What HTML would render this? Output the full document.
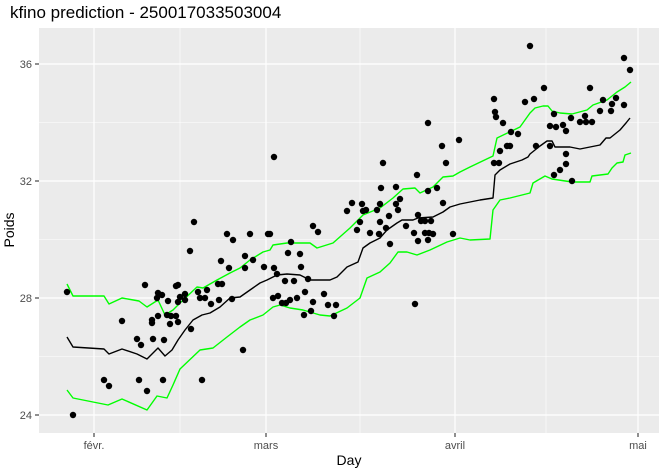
<!DOCTYPE html>
<html><head><meta charset="utf-8"><style>
body{margin:0;background:#fff;}
svg{display:block;font-family:"Liberation Sans",sans-serif;}
</style></head><body>
<svg width="664" height="472" viewBox="0 0 664 472">
<rect x="0" y="0" width="664" height="472" fill="#fff"/>
<text x="10" y="18" font-size="17" fill="#000">kfino prediction - 250017033503004</text>
<rect x="39" y="28" width="620" height="405" fill="#ebebeb"/>
<g stroke="#fff" stroke-width="0.6">
<line x1="39" x2="659" y1="122.5" y2="122.5"/><line x1="39" x2="659" y1="239.5" y2="239.5"/><line x1="39" x2="659" y1="356.5" y2="356.5"/>
<line y1="28" y2="433" x1="180" x2="180"/><line y1="28" y2="433" x1="360" x2="360"/><line y1="28" y2="433" x1="546" x2="546"/>
</g>
<g stroke="#fff" stroke-width="1.2">
<line x1="39" x2="659" y1="64" y2="64"/><line x1="39" x2="659" y1="181" y2="181"/><line x1="39" x2="659" y1="298" y2="298"/><line x1="39" x2="659" y1="415" y2="415"/>
<line y1="28" y2="433" x1="94" x2="94"/><line y1="28" y2="433" x1="266" x2="266"/><line y1="28" y2="433" x1="455" x2="455"/><line y1="28" y2="433" x1="638" x2="638"/>
</g>
<g fill="none" stroke-width="1.4" stroke-linejoin="round">
<polyline stroke="#00ff00" points="67,284 73,296 104,296 109,304 122,298 139,301 147,307 158,300 165,315 173,310 180,303 197,287 203,288 217,280 230,273 240,268 250,260 263,252 270,250 273,245 287,243 310,243 317,248 333,243 350,228 363,215 380,208 393,198 403,189 415,188 420,193 433,187 443,177 453,176 460,172 470,167 493,156 497,138 520,127 530,113 535,108 543,106 548,106 552,111 560,113 572,114 587,110 593,105 607,100 617,92 625,87 631,82"/>
<polyline stroke="#00ff00" points="67,390 73,398 108,405 122,399 147,410 157,396 167,398 173,385 180,369 200,350 213,348 227,337 240,327 250,320 263,315 273,307 280,305 290,308 303,310 320,315 330,316 347,308 360,298 367,278 380,272 390,263 398,252 407,252 417,255 430,250 447,242 460,238 470,240 490,239 493,210 500,200 510,198 530,193 533,183 545,176 552,179 572,182 590,182 592,176 608,174 612,168 617,163 623,162 625,155 631,153"/>
<polyline stroke="#000" points="67,337 73,347 104,349 109,354 122,349 137,354 147,359 158,348 165,356 172,350 178,340 185,330 193,320 202,315 210,313 220,307 230,298 240,297 250,290 260,283 267,280 277,275 287,274 300,275 310,280 330,280 337,277 347,267 358,262 363,248 370,243 380,238 387,230 397,223 402,220 413,220 418,218 433,217 443,212 450,207 460,204 470,202 480,200 493,198 495,175 500,170 510,164 522,160 528,157 530,154 540,146 547,141 552,141 555,147 570,147 580,149 590,147 600,145 606,138 610,138 620,130 626,123 630,118"/>
</g>
<g fill="#000">
<circle cx="67" cy="292" r="3.2"/><circle cx="73" cy="415" r="3.2"/><circle cx="104" cy="380" r="3.2"/><circle cx="109" cy="386" r="3.2"/><circle cx="122" cy="321" r="3.2"/><circle cx="139" cy="380" r="3.2"/><circle cx="147" cy="391" r="3.2"/><circle cx="163" cy="380" r="3.2"/><circle cx="202" cy="380" r="3.2"/><circle cx="243" cy="350" r="3.2"/><circle cx="157" cy="298" r="3.2"/>
<circle cx="274" cy="157" r="3.2"/><circle cx="194" cy="222" r="3.2"/><circle cx="190" cy="251" r="3.2"/><circle cx="227" cy="234" r="3.2"/><circle cx="233" cy="240" r="3.2"/><circle cx="250" cy="234" r="3.2"/><circle cx="268" cy="234" r="3.2"/><circle cx="245" cy="256" r="3.2"/><circle cx="221" cy="261" r="3.2"/><circle cx="253" cy="260" r="3.2"/><circle cx="245" cy="268" r="3.2"/><circle cx="264" cy="267" r="3.2"/><circle cx="218" cy="284" r="3.2"/><circle cx="222" cy="284" r="3.2"/><circle cx="274" cy="268" r="3.2"/><circle cx="277" cy="274" r="3.2"/><circle cx="229" cy="268" r="3.2"/><circle cx="198" cy="292" r="3.2"/><circle cx="185" cy="294" r="3.2"/><circle cx="145" cy="285" r="3.2"/><circle cx="158" cy="293" r="3.2"/><circle cx="176" cy="286" r="3.2"/><circle cx="185" cy="300" r="3.2"/><circle cx="178" cy="302" r="3.2"/><circle cx="168" cy="301" r="3.2"/><circle cx="180" cy="297" r="3.2"/><circle cx="162" cy="295" r="3.2"/><circle cx="178" cy="285" r="3.2"/><circle cx="200" cy="298" r="3.2"/><circle cx="205" cy="298" r="3.2"/><circle cx="207" cy="290" r="3.2"/><circle cx="232" cy="299" r="3.2"/><circle cx="219" cy="300" r="3.2"/><circle cx="211" cy="304" r="3.2"/><circle cx="171" cy="316" r="3.2"/><circle cx="176" cy="316" r="3.2"/><circle cx="167" cy="315" r="3.2"/><circle cx="158" cy="316" r="3.2"/><circle cx="152" cy="320" r="3.2"/><circle cx="170" cy="324" r="3.2"/><circle cx="191" cy="329" r="3.2"/><circle cx="178" cy="322" r="3.2"/><circle cx="153" cy="339" r="3.2"/><circle cx="152" cy="323" r="3.2"/><circle cx="141" cy="345" r="3.2"/><circle cx="137" cy="339" r="3.2"/><circle cx="164" cy="340" r="3.2"/><circle cx="278" cy="296" r="3.2"/><circle cx="290" cy="300" r="3.2"/>
<circle cx="270" cy="234" r="3.2"/><circle cx="273" cy="298" r="3.2"/><circle cx="282" cy="303" r="3.2"/><circle cx="286" cy="303" r="3.2"/><circle cx="297" cy="298" r="3.2"/><circle cx="285" cy="281" r="3.2"/><circle cx="294" cy="281" r="3.2"/><circle cx="308" cy="279" r="3.2"/><circle cx="313" cy="302" r="3.2"/><circle cx="304" cy="315" r="3.2"/><circle cx="311" cy="311" r="3.2"/><circle cx="305" cy="292" r="3.2"/><circle cx="328" cy="305" r="3.2"/><circle cx="334" cy="316" r="3.2"/><circle cx="336" cy="305" r="3.2"/><circle cx="324" cy="294" r="3.2"/><circle cx="301" cy="267" r="3.2"/><circle cx="300" cy="254" r="3.2"/><circle cx="288" cy="253" r="3.2"/><circle cx="291" cy="242" r="3.2"/><circle cx="318" cy="232" r="3.2"/><circle cx="313" cy="226" r="3.2"/><circle cx="357" cy="230" r="3.2"/><circle cx="352" cy="203" r="3.2"/><circle cx="362" cy="204" r="3.2"/><circle cx="363" cy="211" r="3.2"/><circle cx="347" cy="211" r="3.2"/><circle cx="366" cy="210" r="3.2"/><circle cx="377" cy="210" r="3.2"/><circle cx="380" cy="204" r="3.2"/><circle cx="389" cy="216" r="3.2"/><circle cx="370" cy="233" r="3.2"/><circle cx="360" cy="222" r="3.2"/><circle cx="386" cy="228" r="3.2"/><circle cx="390" cy="244" r="3.2"/><circle cx="380" cy="222" r="3.2"/><circle cx="379" cy="234" r="3.2"/><circle cx="381" cy="188" r="3.2"/><circle cx="396" cy="187" r="3.2"/><circle cx="383" cy="163" r="3.2"/><circle cx="428" cy="191" r="3.2"/><circle cx="417" cy="175" r="3.2"/><circle cx="421" cy="221" r="3.2"/><circle cx="414" cy="233" r="3.2"/><circle cx="418" cy="241" r="3.2"/><circle cx="425" cy="221" r="3.2"/><circle cx="425" cy="233" r="3.2"/><circle cx="431" cy="221" r="3.2"/><circle cx="433" cy="234" r="3.2"/><circle cx="415" cy="304" r="3.2"/><circle cx="429" cy="233" r="3.2"/><circle cx="418" cy="215" r="3.2"/><circle cx="396" cy="204" r="3.2"/><circle cx="400" cy="199" r="3.2"/><circle cx="406" cy="226" r="3.2"/><circle cx="428" cy="240" r="3.2"/><circle cx="443" cy="203" r="3.2"/><circle cx="437" cy="188" r="3.2"/><circle cx="453" cy="234" r="3.2"/><circle cx="398" cy="210" r="3.2"/>
<circle cx="428" cy="123" r="3.2"/><circle cx="442" cy="146" r="3.2"/><circle cx="459" cy="140" r="3.2"/><circle cx="446" cy="163" r="3.2"/><circle cx="494" cy="99" r="3.2"/><circle cx="495" cy="112" r="3.2"/><circle cx="496" cy="117" r="3.2"/><circle cx="494" cy="163" r="3.2"/><circle cx="499" cy="163" r="3.2"/><circle cx="503" cy="123" r="3.2"/><circle cx="500" cy="151" r="3.2"/><circle cx="507" cy="146" r="3.2"/><circle cx="511" cy="132" r="3.2"/><circle cx="518" cy="134" r="3.2"/><circle cx="525" cy="102" r="3.2"/><circle cx="530" cy="46" r="3.2"/><circle cx="534" cy="99" r="3.2"/><circle cx="544" cy="88" r="3.2"/><circle cx="536" cy="146" r="3.2"/><circle cx="550" cy="146" r="3.2"/><circle cx="550" cy="126" r="3.2"/><circle cx="556" cy="127" r="3.2"/><circle cx="554" cy="114" r="3.2"/><circle cx="563" cy="125" r="3.2"/><circle cx="566" cy="131" r="3.2"/><circle cx="566" cy="154" r="3.2"/><circle cx="571" cy="118" r="3.2"/><circle cx="580" cy="122" r="3.2"/><circle cx="586" cy="122" r="3.2"/><circle cx="592" cy="122" r="3.2"/><circle cx="585" cy="116" r="3.2"/><circle cx="590" cy="88" r="3.2"/><circle cx="600" cy="111" r="3.2"/><circle cx="603" cy="100" r="3.2"/><circle cx="611" cy="111" r="3.2"/><circle cx="612" cy="104" r="3.2"/><circle cx="616" cy="98" r="3.2"/><circle cx="624" cy="58" r="3.2"/><circle cx="630" cy="70" r="3.2"/><circle cx="624" cy="105" r="3.2"/><circle cx="554" cy="175" r="3.2"/><circle cx="560" cy="170" r="3.2"/><circle cx="566" cy="164" r="3.2"/><circle cx="572" cy="181" r="3.2"/><circle cx="510" cy="146" r="3.2"/>
</g>
<g stroke="#333" stroke-width="1.1">
<line x1="35" x2="39" y1="64" y2="64"/><line x1="35" x2="39" y1="181" y2="181"/><line x1="35" x2="39" y1="298" y2="298"/><line x1="35" x2="39" y1="415" y2="415"/>
<line y1="433" y2="437" x1="94" x2="94"/><line y1="433" y2="437" x1="266" x2="266"/><line y1="433" y2="437" x1="455" x2="455"/><line y1="433" y2="437" x1="638" x2="638"/>
</g>
<g font-size="11" fill="#4d4d4d" text-anchor="end">
<text x="32" y="68">36</text><text x="32" y="185">32</text><text x="32" y="302">28</text><text x="32" y="419">24</text>
</g>
<g font-size="11" fill="#4d4d4d" text-anchor="middle">
<text x="94" y="449">févr.</text><text x="266" y="449">mars</text><text x="455" y="449">avril</text><text x="638" y="449">mai</text>
</g>
<text x="349" y="465" font-size="14" text-anchor="middle" fill="#000">Day</text>
<text transform="translate(14,230) rotate(-90)" font-size="14" text-anchor="middle" fill="#000">Poids</text>
</svg>
</body></html>
